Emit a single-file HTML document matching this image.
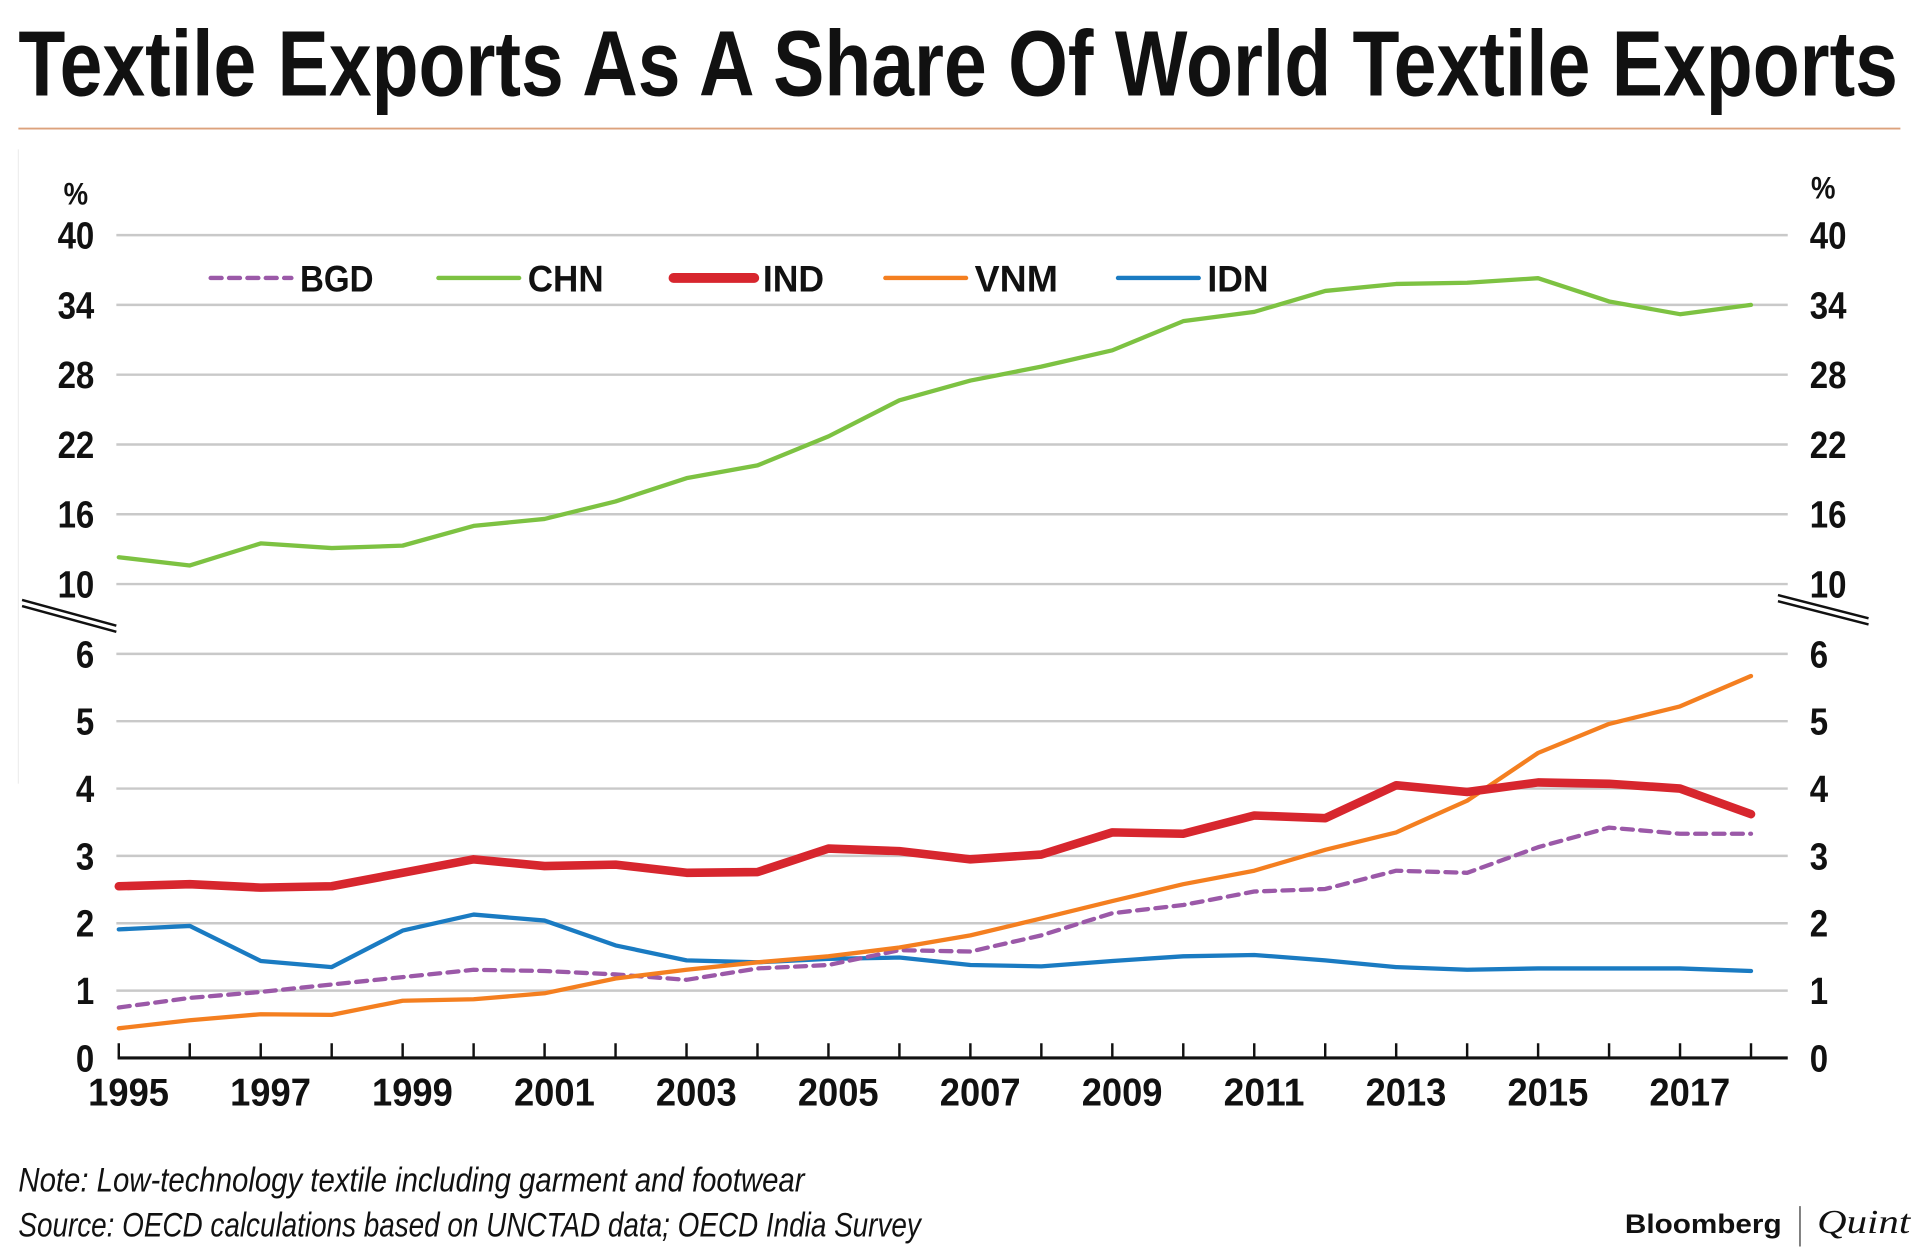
<!DOCTYPE html>
<html><head><meta charset="utf-8">
<style>
html,body{margin:0;padding:0;background:#fff;width:1920px;height:1259px;overflow:hidden}
svg{display:block}
.cond{font-family:"Liberation Sans Narrow","Liberation Sans",sans-serif;font-weight:bold;fill:#111}
</style></head>
<body>
<svg id="chart" width="1920" height="1259" viewBox="0 0 1568 1028.2" xmlns="http://www.w3.org/2000/svg">
<text class="cond" x="15" y="78" font-size="76" textLength="1535" lengthAdjust="spacingAndGlyphs">Textile Exports As A Share Of World Textile Exports</text>
<line x1="15" y1="105" x2="1552" y2="105" stroke="#dca27c" stroke-width="1.5"/>
<line x1="15" y1="122" x2="15" y2="640" stroke="#eeeeee" stroke-width="1"/>
<g id="grid"></g>
<g id="axes"></g>
<g id="series"></g>
<g id="legend"></g>
<text x="15" y="973" font-family="Liberation Sans Narrow,Liberation Sans,sans-serif" font-style="italic" font-size="28" fill="#111" textLength="642" lengthAdjust="spacingAndGlyphs">Note: Low-technology textile including garment and footwear</text>
<text x="15" y="1010" font-family="Liberation Sans Narrow,Liberation Sans,sans-serif" font-style="italic" font-size="28" fill="#111" textLength="737" lengthAdjust="spacingAndGlyphs">Source: OECD calculations based on UNCTAD data; OECD India Survey</text>
<text x="1327" y="1007" font-family="Liberation Sans,sans-serif" font-weight="bold" font-size="22" fill="#111" textLength="128" lengthAdjust="spacingAndGlyphs">Bloomberg</text>
<line x1="1470" y1="985" x2="1470" y2="1018" stroke="#333" stroke-width="1"/>
<text x="1484" y="1007" font-family="Liberation Serif,serif" font-style="italic" font-size="28" fill="#111" textLength="76" lengthAdjust="spacingAndGlyphs">Quint</text>
</svg>
<script>
const years = [1995,1996,1997,1998,1999,2000,2001,2002,2003,2004,2005,2006,2007,2008,2009,2010,2011,2012,2013,2014,2015,2016,2017,2018];
const chn = [12.3,11.6,13.5,13.1,13.3,15.0,15.6,17.1,19.1,20.2,22.7,25.8,27.5,28.7,30.1,32.6,33.4,35.2,35.8,35.9,36.3,34.3,33.2,34.0];
const ind = [2.55,2.58,2.53,2.55,2.75,2.95,2.85,2.87,2.75,2.76,3.11,3.07,2.95,3.02,3.35,3.33,3.60,3.56,4.05,3.95,4.09,4.07,4.00,3.62];
const vnm = [0.44,0.56,0.65,0.64,0.85,0.87,0.96,1.18,1.31,1.42,1.51,1.64,1.82,2.07,2.33,2.58,2.78,3.09,3.35,3.82,4.53,4.96,5.22,5.67];
const bgd = [0.75,0.89,0.98,1.09,1.20,1.31,1.29,1.24,1.16,1.33,1.38,1.60,1.58,1.82,2.15,2.27,2.47,2.51,2.78,2.75,3.13,3.42,3.33,3.33];
const idn = [1.91,1.96,1.44,1.35,1.89,2.13,2.04,1.67,1.45,1.42,1.47,1.49,1.38,1.36,1.44,1.51,1.53,1.45,1.35,1.31,1.33,1.33,1.33,1.29];
const upperTicks = [40,34,28,22,16,10];
const lowerTicks = [6,5,4,3,2,1,0];
const yearLabels = [1995,1997,1999,2001,2003,2005,2007,2009,2011,2013,2015,2017];

const NS='http://www.w3.org/2000/svg';
function mk(tag, attrs, parent){const e=document.createElementNS(NS,tag);for(const k in attrs)e.setAttribute(k,attrs[k]);parent.appendChild(e);return e;}
const xS = y => 97 + (y-1995)*(1430-97)/23;
const yU = v => 477 - (v-10)*(477-192)/30;
const yL = v => 864 - v*55;
const grid=document.getElementById('grid'), axes=document.getElementById('axes'), series=document.getElementById('series'), legend=document.getElementById('legend');

function tickLabel(v, y, side){
  const s=String(v);
  const t=mk('text',{x: side==='l'?77:1478, y: y+11, 'text-anchor': side==='l'?'end':'start', 'font-size':31, class:'cond', textLength: 15*s.length, lengthAdjust:'spacingAndGlyphs'}, axes);
  
  
  t.textContent=s;
}
upperTicks.forEach(v=>{
  const l=mk('line',{x1:95,x2:1460,y1:yU(v),y2:yU(v),stroke:'#c9c9c9','stroke-width':2},grid);
  
  
  tickLabel(v,yU(v),'l'); tickLabel(v,yU(v),'r');
});
lowerTicks.forEach(v=>{
  if(v>0){
    const l=mk('line',{x1:95,x2:1460,y1:yL(v),y2:yL(v),stroke:'#c9c9c9','stroke-width':2},grid);
    
    
  }
  tickLabel(v,yL(v),'l'); tickLabel(v,yL(v),'r');
});
[['l',52,167],['r',1479,162]].forEach(p=>{
  const t=mk('text',{x:p[1],y:p[2],'font-size':26,class:'cond',textLength:20,lengthAdjust:'spacingAndGlyphs'},axes);
  
  
  t.textContent='%';
});
[[18,490,95,511],[1452,486,1526,505]].forEach((b,i)=>{
  [0,5].forEach(o=>{
    const l=mk('line',{x1:b[0],y1:b[1]+o,x2:b[2],y2:b[3]+o,stroke:'#111','stroke-width':2},axes);
    
    
  });
});
const ax=mk('line',{x1:96,x2:1460,y1:864,y2:864,stroke:'#111','stroke-width':2.5},axes);


years.forEach(y=>{
  const t=mk('line',{x1:xS(y),x2:xS(y),y1:864,y2:852,stroke:'#111','stroke-width':2},axes);
  
  
});
yearLabels.forEach(y=>{
  const t=mk('text',{x:xS(y)+8,y:903,'text-anchor':'middle','font-size':32,class:'cond',textLength:66,lengthAdjust:'spacingAndGlyphs'},axes);
  
  
  t.textContent=y;
});

function line(vals, scale, color, w, dash, name){
  const d=vals.map((v,i)=>(i?'L':'M')+xS(years[i]).toFixed(1)+','+scale(v).toFixed(1)).join(' ');
  const p=mk('path',{d:d,fill:'none',stroke:color,'stroke-width':w,'stroke-linejoin':'round','stroke-linecap':'round'},series);
  if(dash) p.setAttribute('stroke-dasharray',dash);
  
  
}
line(chn,yU,'#7dc242',3.5,null,'series-chn');
line(idn,yL,'#1a7bc2',3.5,null,'series-idn');
line(bgd,yL,'#9b59a8',3.5,'9,6','series-bgd');
line(vnm,yL,'#f47f20',3.5,null,'series-vnm');
line(ind,yL,'#d7262e',7,null,'series-ind');

const leg=[['BGD','#9b59a8',3.5,'9,6',172,60],['CHN','#7dc242',3.5,null,358,62],['IND','#d7262e',8,null,550,50],['VNM','#f47f20',3.5,null,723,68],['IDN','#1a7bc2',3.5,null,913,50]];
leg.forEach(l=>{
  const s=mk('line',{x1:l[4],x2:l[4]+66,y1:227,y2:227,stroke:l[1],'stroke-width':l[2],'stroke-linecap':'round'},legend);
  if(l[3]) s.setAttribute('stroke-dasharray',l[3]);
  
  
  const t=mk('text',{x:l[4]+73,y:238,'font-size':30,class:'cond',textLength:l[5],lengthAdjust:'spacingAndGlyphs'},legend);
  
  
  t.textContent=l[0];
});
</script>
</body></html>
